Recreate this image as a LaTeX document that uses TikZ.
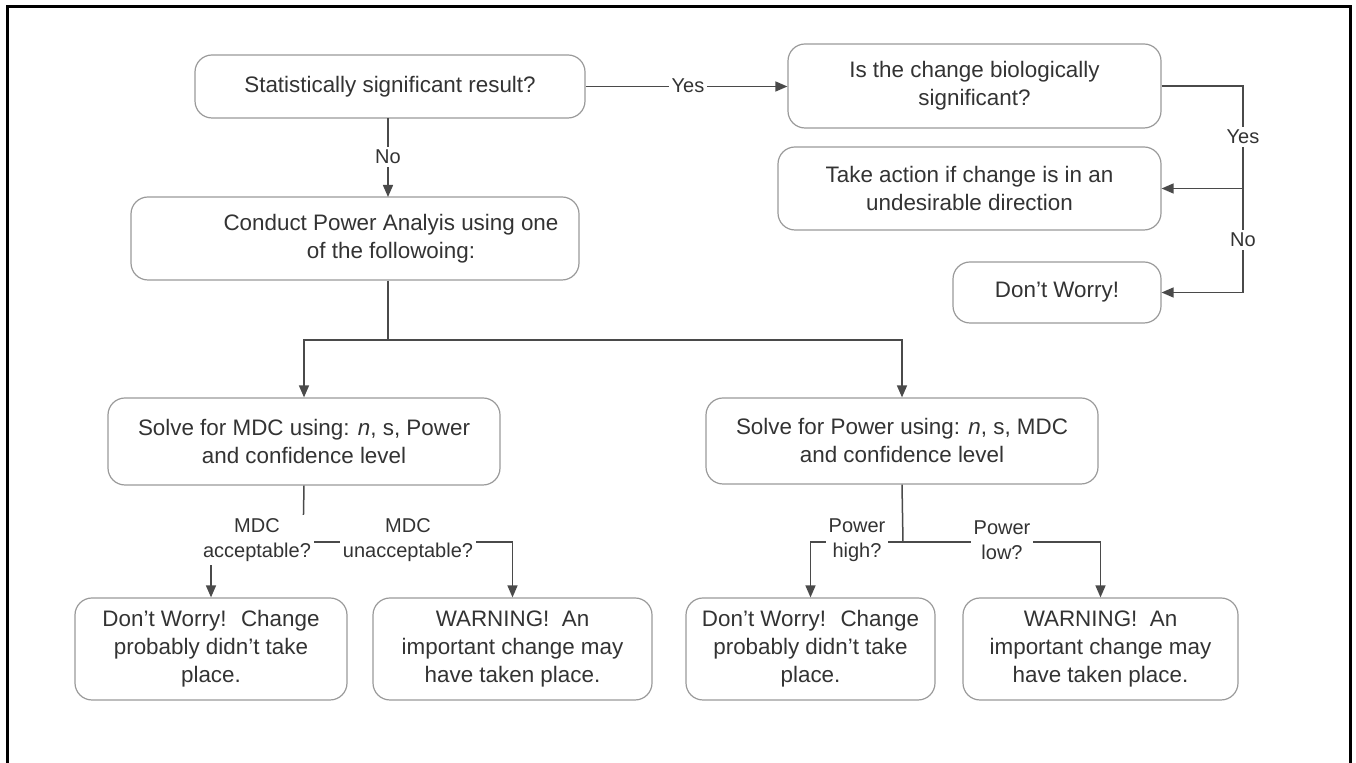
\documentclass[tikz,border=0pt]{standalone}
\usepackage{fontspec}
\setmainfont{Liberation Sans}
\usetikzlibrary{arrows.meta}
\definecolor{boxgray}{HTML}{9A9A9A}
\definecolor{txtgray}{HTML}{333333}
\definecolor{linegray}{HTML}{4A4A4A}
\tikzset{
  box/.style={draw=boxgray, line width=0.6pt, rounded corners=8.5pt, fill=white,
    align=center, text=txtgray, inner sep=0pt,
    font=\fontsize{11.2pt}{14pt}\selectfont},
  boxtext/.style={align=center, text=txtgray, inner sep=0pt,
    font=\fontsize{11.2pt}{14pt}\selectfont},
  conn/.style={draw=linegray, line width=0.75pt},
  arr/.style={conn, -{Triangle[length=6pt,width=5pt]}},
  lbl/.style={fill=white, text=txtgray, align=center, inner sep=1.5pt,
    font=\fontsize{10pt}{12.5pt}\selectfont},
}
\begin{document}
\begin{tikzpicture}[x=0.5pt, y=-0.5pt]
\useasboundingbox (0,0) rectangle (1356,763);
% outer frame
\draw[line width=1.5pt, black] (7,763) -- (7,7) -- (1350,7) -- (1350,763);

% boxes
\node[box, minimum width=195pt, minimum height=31.5pt] (A) at (390,86.5) {Statistically significant result?};
\node[box, minimum width=186.5pt, minimum height=42pt] (B) at (974.5,86) {Is the change biologically\\significant?};
\node[box, minimum width=191.5pt, minimum height=41.5pt] (C) at (969.5,188.5) {Take action if change is in an\\undesirable direction};
\node[box, minimum width=104pt, minimum height=30.5pt] (D) at (1057,292.5) {Don't Worry!};
\node[box, minimum width=224pt, minimum height=41.5pt] (E) at (355,238.5) {};
\node[boxtext] (Et) at (391,238.5) {Conduct Power Analyis using one\\of the followoing:};
\node[box, minimum width=196pt, minimum height=43.5pt] (F) at (304,441.5) {Solve for MDC using: \textit{n}, s, Power\\and confidence level};
\node[box, minimum width=196pt, minimum height=43pt] (G) at (902,441) {Solve for Power using: \textit{n}, s, MDC\\and confidence level};
\node[box, minimum width=136pt, minimum height=51pt] (H) at (211,649) {Don't Worry!~ Change\\probably didn't take\\place.};
\node[box, minimum width=139.5pt, minimum height=51pt] (I) at (512.5,649) {WARNING!~ An\\important change may\\have taken place.};
\node[box, minimum width=124.5pt, minimum height=51pt] (J) at (810.5,649) {Don't Worry!~ Change\\probably didn't take\\place.};
\node[box, minimum width=137.5pt, minimum height=51pt] (K) at (1100.5,649) {WARNING!~ An\\important change may\\have taken place.};

% junction coordinates
\coordinate (rb) at (1243,86);
\coordinate (j1) at (388,340);
\coordinate (j2) at (303,542);
\coordinate (j3) at (903,542);

% A -> B (Yes)
\draw[arr] (A.east) -- (A.east -| B.west);
% A -> E (No)
\draw[arr] (388,118) -- (388,197);
% B -> C / D
\draw[conn] (B.east) -- (rb) -- (rb |- C.east);
\draw[arr] (rb |- C.east) -- (C.east);
\draw[arr] (rb |- C.east) -- (rb |- D.east) -- (D.east);
% E -> F, G
\draw[conn] (j1 |- E.south) -- (j1);
\draw[arr] (j1) -- (j1 -| F.north) -- (F.north);
\draw[arr] (j1) -- (j1 -| G.north) -- (G.north);
% F -> H, I
\draw[conn] (F.south) -- (j2);
\draw[arr] (j2) -- (j2 -| H.north) -- (H.north);
\draw[arr] (j2) -- (j2 -| I.north) -- (I.north);
% G -> J, K
\draw[conn] (G.south) -- (j3);
\draw[arr] (j3) -- (j3 -| J.north) -- (J.north);
\draw[arr] (j3) -- (j3 -| K.north) -- (K.north);

% labels
\node[lbl] (l1) at (688,86) {Yes};
\node[lbl] (l2) at (388,157) {No};
\node[lbl] (l3) at (1243,137) {Yes};
\node[lbl] (l4) at (1243,240) {No};
\node[lbl] (l5) at (257,540) {MDC\\acceptable?};
\node[lbl] (l6) at (408,540) {MDC\\unacceptable?};
\node[lbl] (l7) at (857,540) {Power\\high?};
\node[lbl] (l8) at (1002,540) {Power\\low?};
\end{tikzpicture}
\end{document}
